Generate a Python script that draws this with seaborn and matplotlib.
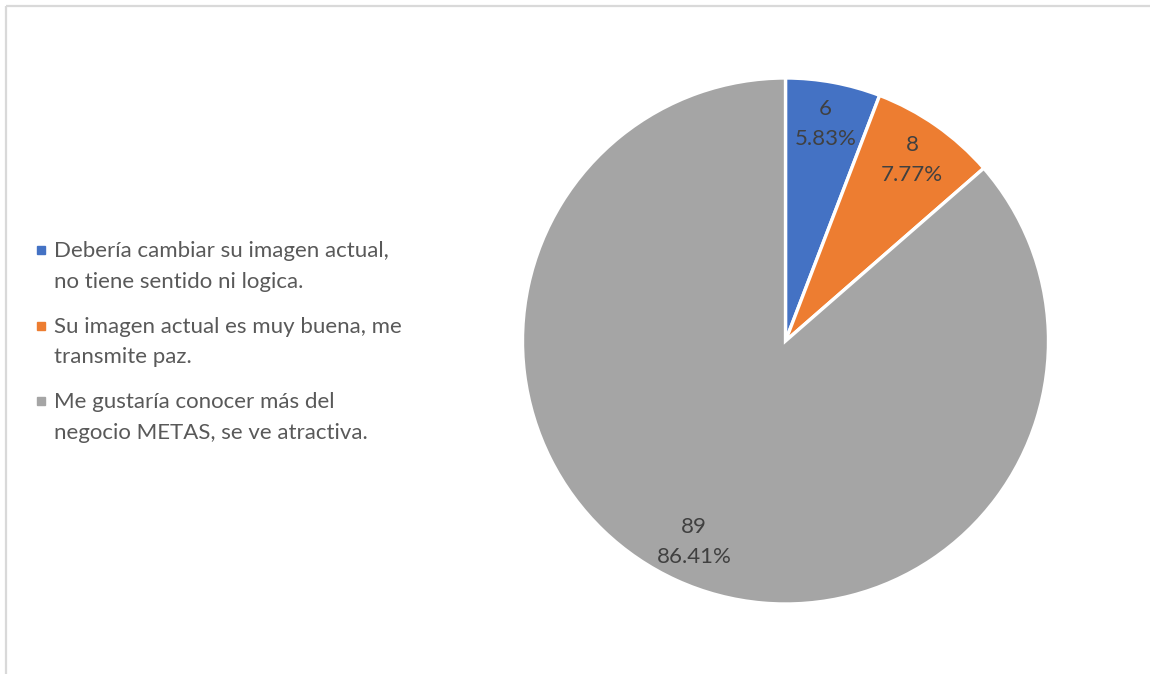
import matplotlib
matplotlib.use("Agg")
import matplotlib.pyplot as plt
from matplotlib.lines import Line2D
from matplotlib.legend_handler import HandlerLine2D
import seaborn as sns

categories = [
    "Debería cambiar su imagen actual,\nno tiene sentido ni logica.",
    "Su imagen actual es muy buena, me\ntransmite paz.",
    "Me gustaría conocer más del\nnegocio METAS, se ve atractiva.",
]
counts = [6, 8, 89]
colors = ["#4472C4", "#ED7D31", "#A5A5A5"]

sns.set_theme(style="white")
plt.rcParams["font.family"] = ["Lato", "DejaVu Sans"]

W, H = 1150, 674
DPI = 100
fig = plt.figure(figsize=(W / DPI, H / DPI), dpi=DPI)
fig.patch.set_facecolor("white")

# thin gray frame along the top and left edges of the chart area
frame = fig.add_axes([0, 0, 1, 1], zorder=-1)
frame.set_xlim(0, W)
frame.set_ylim(H, 0)
frame.axis("off")
frame.plot([6, W], [6, 6], color="#D9D9D9", lw=1.6, solid_capstyle="butt")
frame.plot([6, 6], [6, H], color="#D9D9D9", lw=1.6, solid_capstyle="butt")

# pie axes
cx, cy, r = 785.5, 341.0, 263.0
ax = fig.add_axes([(cx - r) / W, (H - cy - r) / H, 2 * r / W, 2 * r / H])
total = sum(counts)


def fmt(pct):
    n = int(round(pct * total / 100.0))
    return f"{n}\n{n / total * 100:.2f}%"


wedges, _, autotexts = ax.pie(
    counts,
    colors=colors,
    startangle=90,
    counterclock=False,
    radius=1.0,
    autopct=fmt,
    pctdistance=0.84,
    wedgeprops=dict(edgecolor="white", linewidth=2.4),
    textprops=dict(color="#404040", fontsize=16, linespacing=1.6),
)
ax.set_xlim(-1, 1)
ax.set_ylim(-1, 1)
ax.set_aspect("equal")
ax.axis("off")


class FirstLineMarker(HandlerLine2D):
    """Legend marker raised to sit beside the first line of a two-line label."""

    def __init__(self, shift_pt, **kw):
        super().__init__(**kw)
        self.shift_pt = shift_pt

    def create_artists(self, legend, orig_handle, xdescent, ydescent,
                       width, height, fontsize, trans):
        artists = super().create_artists(legend, orig_handle, xdescent,
                                         ydescent, width, height, fontsize,
                                         trans)
        for a in artists:
            a.set_ydata([y + self.shift_pt for y in a.get_ydata()])
        return artists


handles = [
    Line2D([], [], marker="s", linestyle="none", markersize=6.3,
           markerfacecolor=c, markeredgecolor=c)
    for c in colors
]
leg = fig.legend(
    handles, categories,
    loc="center left",
    bbox_to_anchor=(24 / W, (H - 342) / H),
    frameon=False,
    fontsize=16,
    handlelength=0.5,
    handletextpad=0.35,
    labelspacing=1.1,
    borderpad=0,
    handler_map={Line2D: FirstLineMarker(shift_pt=12.0)},
)
for t in leg.get_texts():
    t.set_color("#595959")
    t.set_linespacing(1.68)

fig.savefig("out.png", dpi=DPI, facecolor="white")
